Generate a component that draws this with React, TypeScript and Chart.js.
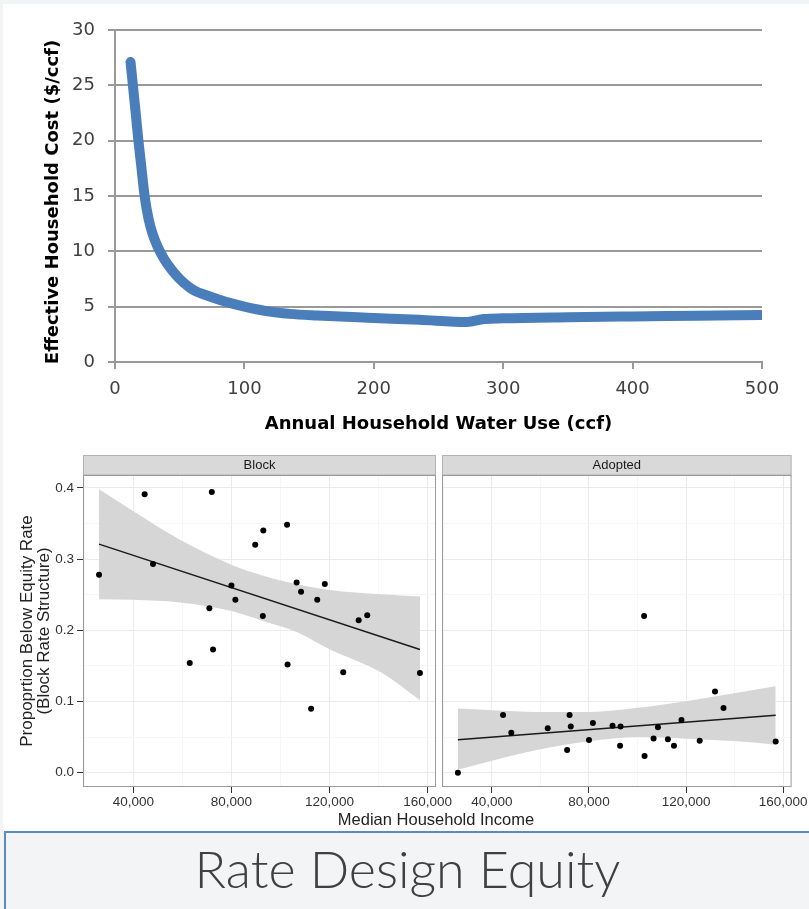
import React, { useEffect, useRef } from 'react';
import { Chart, registerables } from 'chart.js';

Chart.register(...registerables);

// ---------- Top chart: effective cost vs annual water use ----------
const waterUse = [12, 14, 16, 18, 20, 23, 26, 29, 33, 38, 44, 50, 58, 62, 70, 80, 90, 100, 117, 135, 156, 195, 235, 272, 285, 300, 350, 400, 450, 500];
const effectiveCost = [27.1, 24.8, 22.5, 20.1, 18.0, 14.9, 12.9, 11.6, 10.4, 9.3, 8.3, 7.5, 6.7, 6.42, 6.05, 5.65, 5.3, 5.0, 4.6, 4.35, 4.2, 4.0, 3.82, 3.62, 3.88, 3.95, 4.05, 4.12, 4.18, 4.25];
const topXTicks = [0, 100, 200, 300, 400, 500];
const topYTicks = [0, 5, 10, 15, 20, 25, 30];
const topXTitle = 'Annual Household Water Use (ccf)';
const topYTitle = 'Effective Household Cost ($/ccf)';

// ---------- Bottom facets: proportion below equity rate vs income ----------
const panelNames = ['Block', 'Adopted'];
const incomes = [26000, 44600, 48000, 63000, 71000, 72000, 72500, 80000, 81600, 89700, 92800, 93000, 102700, 102900, 106600, 108400, 112500, 115000, 118100, 125600, 131900, 135400, 156900];
const blockValues = [0.278, 0.391, 0.293, 0.154, 0.231, 0.394, 0.173, 0.263, 0.243, 0.320, 0.220, 0.340, 0.348, 0.152, 0.267, 0.254, 0.090, 0.243, 0.265, 0.141, 0.214, 0.221, 0.140];
const adoptedValues = [0.000, 0.081, 0.056, 0.0625, 0.032, 0.081, 0.065, 0.046, 0.070, 0.066, 0.038, 0.065, 0.220, 0.0235, 0.048, 0.064, 0.047, 0.038, 0.074, 0.045, 0.114, 0.091, 0.044];

// fitted lines (end points) and confidence band edges
const fitX = [26000, 156900];
const blockFit = [0.321, 0.173];
const adoptedFit = [0.0465, 0.0808];

const blockBandX = [26000, 40000, 59000, 80000, 93000, 107000, 120000, 141000, 156900];
const blockUpper = [0.398, 0.367, 0.327, 0.292, 0.2765, 0.2645, 0.2565, 0.2505, 0.2474];
const blockLower = [0.2437, 0.2427, 0.239, 0.227, 0.213, 0.197, 0.1735, 0.141, 0.1019];

const adoptedBandX = [26000, 40000, 59000, 80000, 100000, 120000, 141000, 156900];
const adoptedUpper = [0.0901, 0.0878, 0.0854, 0.0854, 0.0911, 0.1005, 0.1122, 0.1216];
const adoptedLower = [0.0042, 0.0169, 0.0324, 0.0441, 0.0502, 0.0479, 0.0441, 0.0394];

const xMajorTicks = [40000, 80000, 120000, 160000];
const xMinorTicks = [20000, 60000, 100000, 140000];
const yMajorTicks = [0, 0.1, 0.2, 0.3, 0.4];
const yMinorTicks = [0.05, 0.15, 0.25, 0.35];
const facetYTitle = ['Propoprtion Below Equity Rate', '(Block Rate Structure)'];
const facetXTitle = 'Median Household Income';
const slideTitle = 'Rate Design Equity';

const GG_FONT = '"Liberation Sans", Arial, sans-serif';
const TOP_FONT = '"DejaVu Sans", sans-serif';

const pairs = (xs: number[], ys: number[]) => xs.map((x, i) => ({ x, y: ys[i] }));

const stripPlugin = {
  id: 'strip',
  afterDraw(chart: any, _args: any, opts: any) {
    const { ctx, chartArea: a } = chart;
    ctx.save();
    ctx.fillStyle = '#d9d9d9';
    ctx.fillRect(a.left, a.top - 20, a.right - a.left, 20);
    ctx.strokeStyle = '#b3b3b3';
    ctx.lineWidth = 1;
    ctx.strokeRect(a.left + 0.5, a.top - 19.5, a.right - a.left - 1, 19.5);
    ctx.strokeStyle = '#9a9a9a';
    ctx.strokeRect(a.left + 0.5, a.top + 0.5, a.right - a.left - 1, a.bottom - a.top - 1);
    ctx.fillStyle = '#1a1a1a';
    ctx.font = `13px ${GG_FONT}`;
    ctx.textAlign = 'center';
    ctx.textBaseline = 'middle';
    ctx.fillText(opts.label, (a.left + a.right) / 2, a.top - 9.5);
    ctx.restore();
  },
};

const yTitlePlugin = {
  id: 'ytitle',
  afterDraw(chart: any, _args: any, opts: any) {
    if (!opts || !opts.text) return;
    const { ctx } = chart;
    ctx.save();
    ctx.translate(opts.x, opts.y);
    ctx.rotate(-Math.PI / 2);
    ctx.fillStyle = opts.color;
    ctx.font = opts.font;
    ctx.textAlign = 'center';
    ctx.textBaseline = 'middle';
    ctx.fillText(opts.text, 0, 0);
    ctx.restore();
  },
};

function facetConfig(panel: number, values: number[], fitY: number[], bandX: number[], upper: number[], lower: number[], showY: boolean, padRight: number) {
  const isMajorY = (v: number) => yMajorTicks.includes(v);
  const isMajorX = (v: number) => xMajorTicks.includes(v);
  return {
    type: 'line' as const,
    data: {
      datasets: [
        {
          data: pairs(incomes, values),
          showLine: false,
          pointRadius: 3,
          pointBackgroundColor: '#000',
          pointBorderWidth: 0,
          order: 0,
        },
        {
          data: pairs(fitX, fitY),
          borderColor: '#1a1a1a',
          borderWidth: 1.5,
          pointRadius: 0,
          fill: false,
          order: 1,
        },
        {
          data: pairs(bandX, upper),
          borderWidth: 0,
          borderColor: 'rgba(0,0,0,0)',
          backgroundColor: 'rgb(214,214,214)',
          pointRadius: 0,
          fill: '+1',
          cubicInterpolationMode: 'monotone',
          order: 2,
        },
        {
          data: pairs(bandX, lower),
          borderWidth: 0,
          borderColor: 'rgba(0,0,0,0)',
          pointRadius: 0,
          fill: false,
          cubicInterpolationMode: 'monotone',
          order: 3,
        },
      ],
    },
    options: {
      animation: false,
      responsive: false,
      events: [],
      layout: { padding: { top: 35, right: padRight, left: 0, bottom: 0 } },
      plugins: {
        legend: { display: false },
        tooltip: { enabled: false },
        strip: { label: panelNames[panel] },
      },
      scales: {
        x: {
          type: 'linear',
          min: 19455,
          max: 163445,
          afterBuildTicks: (s: any) => {
            s.ticks = [...xMinorTicks, ...xMajorTicks].sort((a, b) => a - b).map((v) => ({ value: v }));
          },
          afterFit: (s: any) => {
            s.height = 33;
          },
          border: { display: false },
          grid: {
            color: (c: any) => (isMajorX(c.tick?.value) ? '#ebebeb' : '#f6f6f6'),
            tickColor: (c: any) => (isMajorX(c.tick?.value) ? '#333' : 'rgba(0,0,0,0)'),
            tickLength: 6,
            lineWidth: 1,
          },
          ticks: {
            autoSkip: false,
            maxRotation: 0,
            padding: 1,
            color: '#333',
            font: { family: GG_FONT, size: 13.5 },
            callback: (v: number) => (isMajorX(v) ? v.toLocaleString('en-US') : ''),
          },
        },
        y: {
          type: 'linear',
          min: -0.02,
          max: 0.418,
          afterBuildTicks: (s: any) => {
            s.ticks = [...yMinorTicks, ...yMajorTicks].sort((a, b) => a - b).map((v) => ({ value: v }));
          },
          afterFit: (s: any) => {
            s.width = showY ? 83 : 2;
          },
          border: { display: false },
          grid: {
            color: (c: any) => (isMajorY(c.tick?.value) ? '#ebebeb' : '#f6f6f6'),
            tickColor: (c: any) => (showY && isMajorY(c.tick?.value) ? '#333' : 'rgba(0,0,0,0)'),
            tickLength: showY ? 6 : 0,
            drawTicks: showY,
            lineWidth: 1,
          },
          ticks: {
            display: showY,
            autoSkip: false,
            padding: 3,
            color: '#333',
            font: { family: GG_FONT, size: 13.5 },
            callback: (v: number) => (isMajorY(v) ? v.toFixed(1) : ''),
          },
          title: {
            display: showY,
            text: facetYTitle,
            color: '#222',
            font: { family: GG_FONT, size: 17, lineHeight: 1 },
            padding: { top: 18.5, bottom: 0 },
          },
        },
      },
    },
    plugins: [stripPlugin],
  };
}

export default function App() {
  const topRef = useRef<HTMLCanvasElement>(null);
  const leftRef = useRef<HTMLCanvasElement>(null);
  const rightRef = useRef<HTMLCanvasElement>(null);

  useEffect(() => {
    const charts: Chart[] = [];
    if (topRef.current) {
      charts.push(
        new Chart(topRef.current, {
          type: 'line',
          data: {
            datasets: [
              {
                data: pairs(waterUse, effectiveCost),
                borderColor: '#4a7ebb',
                borderWidth: 10,
                pointRadius: 0,
                cubicInterpolationMode: 'monotone',
                borderCapStyle: 'round',
                borderJoinStyle: 'round',
                clip: { left: 20, top: 20, right: 0, bottom: 20 },
              } as any,
            ],
          },
          options: {
            animation: false,
            responsive: false,
            events: [],
            layout: { padding: { top: 30, right: 47, left: 0, bottom: 0 } },
            plugins: {
              legend: { display: false },
              tooltip: { enabled: false },
              ytitle: { text: topYTitle, x: 53, y: 202, color: '#000', font: `bold 18px ${TOP_FONT}` },
            },
            scales: {
              x: {
                type: 'linear',
                min: 0,
                max: 500,
                afterBuildTicks: (s: any) => {
                  s.ticks = topXTicks.map((v) => ({ value: v }));
                },
                afterFit: (s: any) => {
                  s.height = 78;
                },
                border: { color: '#999', width: 2 },
                grid: { drawOnChartArea: false, color: '#999', lineWidth: 2, tickLength: 7 },
                ticks: {
                  padding: 10,
                  maxRotation: 0,
                  color: '#404040',
                  font: { family: TOP_FONT, size: 18 },
                },
                title: {
                  display: true,
                  text: topXTitle,
                  color: '#000',
                  font: { family: TOP_FONT, size: 18, weight: 'bold' },
                  padding: { top: 0, bottom: 5 },
                },
              },
              y: {
                type: 'linear',
                min: 0,
                max: 30,
                afterBuildTicks: (s: any) => {
                  s.ticks = topYTicks.map((v) => ({ value: v }));
                },
                afterFit: (s: any) => {
                  s.width = 115;
                },
                border: { color: '#999', width: 2 },
                grid: { color: '#999', lineWidth: 2, tickLength: 7 },
                ticks: {
                  padding: 13,
                  color: '#404040',
                  font: { family: TOP_FONT, size: 18 },
                },
              },
            },
          } as any,
          plugins: [yTitlePlugin],
        })
      );
    }
    if (leftRef.current) {
      charts.push(new Chart(leftRef.current, facetConfig(0, blockValues, blockFit, blockBandX, blockUpper, blockLower, true, 24) as any));
    }
    if (rightRef.current) {
      charts.push(new Chart(rightRef.current, facetConfig(1, adoptedValues, adoptedFit, adoptedBandX, adoptedUpper, adoptedLower, false, 16) as any));
    }
    return () => charts.forEach((c) => c.destroy());
  }, []);

  return (
    <div style={{ position: 'absolute', left: 0, top: 0, width: 809, height: 909, background: '#f3f4f6', overflow: 'hidden' }}>
      <div style={{ position: 'absolute', left: 3, top: 4, width: 806, height: 828, background: '#ffffff' }} />
      <canvas ref={topRef} width={809} height={440} style={{ position: 'absolute', left: 0, top: 0, width: 809, height: 440 }} />
      <canvas ref={leftRef} width={460} height={380} style={{ position: 'absolute', left: 0, top: 440, width: 460, height: 380 }} />
      <canvas ref={rightRef} width={371} height={380} style={{ position: 'absolute', left: 438, top: 440, width: 371, height: 380 }} />
      <div
        style={{
          position: 'absolute',
          left: 236,
          width: 400,
          top: 810,
          textAlign: 'center',
          fontFamily: GG_FONT,
          fontSize: 16.5,
          lineHeight: '18px',
          color: '#222',
        }}
      >
        {facetXTitle}
      </div>
      <div
        style={{
          position: 'absolute',
          left: 4,
          top: 831,
          width: 805,
          height: 78,
          boxSizing: 'border-box',
          background: '#f3f4f6',
          borderTop: '2px solid #5b8bc7',
          borderLeft: '2px solid #5b8bc7',
        }}
      >
        <div
          style={{
            position: 'absolute',
            left: 0,
            right: 0,
            top: 9,
            textAlign: 'center',
            fontFamily: 'Lato, "Open Sans", sans-serif',
            fontWeight: 300,
            fontSize: 52,
            lineHeight: '52px',
            color: '#404040',
            whiteSpace: 'nowrap',
          }}
        >
          {slideTitle}
        </div>
      </div>
    </div>
  );
}
